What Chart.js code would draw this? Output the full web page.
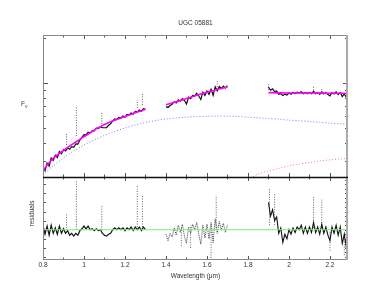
<!DOCTYPE html>
<html>
<head>
<meta charset="utf-8">
<script src="https://cdn.jsdelivr.net/npm/chart.js@4.4.0/dist/chart.umd.min.js"></script>
<style>
  html, body { margin: 0; padding: 0; background: #fff; }
  #wrap { position: relative; width: 374px; height: 285px; overflow: hidden; }
  #wrap canvas { position: absolute; left: 0; top: 0; }
  .lab { position: absolute; font-family: "Liberation Sans", Arial, sans-serif; font-size: 6.5px; color: #333; white-space: nowrap; }
  .lab sub { font-size: 5px; }
</style>
</head>
<body>
<div id="wrap">
  <canvas id="topChart" width="374" height="285"></canvas>
  <canvas id="resChart" width="374" height="285"></canvas>
  <div class="lab" style="left:21px; top:100px;">F<sub>ν</sub></div>
  <div class="lab" style="left:1px; top:210px; width:60px; text-align:center; transform:rotate(-90deg);">residuals</div>
</div>
<script>
// ---- data ----
const chartTitle = 'UGC 05881';
const xTitle = 'Wavelength (μm)';
const xMin = 0.8, xMax = 2.288;
const fluxMin = 0.236, fluxMax = 2.09;     // log axis, no labels
const resMin = -0.333, resMax = 0.58;

const xLabelVals = [0.8, 1, 1.2, 1.4, 1.6, 1.8, 2, 2.2];
const xTickLabels = ['0.8', '1', '1.2', '1.4', '1.6', '1.8', '2', '2.2'];
const xMinorTicks = [0.8, 0.9, 1, 1.1, 1.2, 1.3, 1.4, 1.5, 1.6, 1.7, 1.8, 1.9, 2, 2.1, 2.2];
const fluxTicks = [0.3, 0.4, 0.5, 0.6, 0.7, 0.8, 0.9, 1, 2];
const resTicksLeft = [-0.3, -0.2, -0.1, 0, 0.1, 0.2, 0.3, 0.4, 0.5];
const resTicksRight = [-0.3, -0.25, -0.2, -0.15, -0.1, -0.05, 0, 0.05, 0.1, 0.15, 0.2, 0.25, 0.3, 0.35, 0.4, 0.45, 0.5, 0.55];

// spectrum, segment 1
const wl1 = [0.80,0.81,0.82,0.83,0.84,0.85,0.86,0.87,0.88,0.89,
             0.90,0.91,0.92,0.93,0.94,0.95,0.96,0.97,0.98,0.99,
             1.00,1.01,1.02,1.03,1.04,1.05,1.06,1.07,1.08,1.09,
             1.10,1.11,1.12,1.13,1.14,1.15,1.16,1.17,1.18,1.19,
             1.20,1.21,1.22,1.23,1.24,1.25,1.26,1.27,1.28,1.29,1.30];
const flux1 = [0.269,0.260,0.293,0.279,0.316,0.305,0.330,0.318,0.349,0.337,
               0.359,0.352,0.368,0.361,0.376,0.372,0.392,0.391,0.417,0.434,
               0.452,0.451,0.469,0.465,0.480,0.479,0.499,0.497,0.511,0.504,
               0.503,0.504,0.522,0.534,0.558,0.575,0.571,0.590,0.584,0.603,
               0.592,0.617,0.612,0.631,0.620,0.646,0.641,0.660,0.647,0.674,0.668];
const res1 = [0.05,-0.05,0.04,-0.06,0.05,-0.04,0.02,-0.05,0.04,-0.04,
              0.01,-0.04,-0.01,-0.06,-0.04,-0.07,-0.04,-0.06,-0.01,0.01,
              0.04,0.01,0.04,0.00,0.01,-0.01,0.01,-0.01,0.00,-0.04,
              -0.06,-0.07,-0.05,-0.04,0.00,0.02,0.00,0.02,0.00,0.02,
              -0.01,0.02,0.00,0.03,-0.01,0.03,0.00,0.03,-0.01,0.03,0.00];

// spectrum, segment 2
const wl2 = [1.40,1.41,1.42,1.43,1.44,1.45,1.46,1.47,1.48,1.49,
             1.50,1.51,1.52,1.53,1.54,1.55,1.56,1.57,1.58,1.59,
             1.60,1.61,1.62,1.63,1.64,1.65,1.66,1.67,1.68,1.69,1.70];
const flux2 = [0.695,0.687,0.708,0.721,0.750,0.735,0.772,0.757,0.787,0.764,
               0.724,0.803,0.787,0.827,0.819,0.853,0.819,0.776,0.869,0.826,
               0.885,0.840,0.909,0.828,0.943,0.887,0.948,0.919,0.954,0.924,0.959];
const res2 = [-0.05,-0.12,-0.04,-0.08,0.02,-0.06,0.05,-0.03,0.06,-0.07,
              -0.15,0.03,-0.04,0.06,0.00,0.08,-0.05,-0.16,0.05,-0.09,
              0.06,-0.10,0.08,-0.14,0.12,-0.04,0.09,0.00,0.07,-0.03,0.05];

// spectrum, segment 3
const wl3 = [1.90,1.91,1.92,1.93,1.94,1.95,1.96,1.97,1.98,1.99,
             2.00,2.01,2.02,2.03,2.04,2.05,2.06,2.07,2.08,2.09,
             2.10,2.11,2.12,2.13,2.14,2.15,2.16,2.17,2.18,2.19,
             2.20,2.21,2.22,2.23,2.24,2.25,2.26,2.27,2.28,2.29];
const flux3 = [0.940,0.895,0.913,0.877,0.886,0.842,0.850,0.824,0.841,0.832,
               0.858,0.841,0.867,0.849,0.867,0.857,0.874,0.848,0.866,0.848,
               0.866,0.847,0.882,0.847,0.865,0.839,0.872,0.846,0.864,0.838,
               0.821,0.864,0.846,0.872,0.837,0.863,0.811,0.845,0.803,0.828];
const res3 = [0.30,0.15,0.22,0.10,0.14,-0.04,0.02,-0.14,-0.05,-0.10,
              0.00,-0.05,0.02,-0.03,0.03,0.00,0.05,-0.04,0.03,-0.04,
              0.03,-0.03,0.08,-0.03,0.03,-0.05,0.06,-0.04,0.03,-0.06,
              -0.12,0.03,-0.04,0.05,-0.06,0.03,-0.15,-0.05,-0.20,-0.10];

// outlier columns (dotted verticals)
const spikeWl   = [0.915, 0.963, 1.087, 1.26, 1.285, 1.65, 1.90, 2.12, 2.16];
const spikeLo   = [0.386, 0.443, 0.533, 0.681, 0.714, 0.905, 0.900, 0.860, 0.860];
const spikeHi   = [0.464, 0.703, 0.641, 0.771, 0.858, 1.030, 0.985, 0.948, 0.926];
const resSpikeWl = [0.915, 0.963, 1.087, 1.26, 1.285, 1.475, 1.52, 1.62, 1.645, 1.905, 1.93, 2.12, 2.16, 2.20, 2.27];
const resSpikeLo = [0.02, 0.00, 0.00, 0.03, 0.03, -0.18, -0.20, -0.31, 0.02, 0.05, 0.05, 0.02, 0.02, -0.23, -0.28];
const resSpikeHi = [0.17, 0.54, 0.26, 0.49, 0.38, 0.02, 0.05, -0.02, 0.38, 0.46, 0.40, 0.36, 0.33, -0.02, -0.03];

// total model (magenta)
const fitWl1 = [0.80,0.82,0.84,0.86,0.88,0.90,0.92,0.94,0.96,0.98,1.00,1.02,1.04,
                1.06,1.08,1.10,1.12,1.14,1.16,1.18,1.20,1.22,1.24,1.26,1.28,1.30];
const fitFlux1 = [0.259,0.284,0.304,0.324,0.339,0.355,0.372,0.388,0.404,0.421,0.439,0.455,0.475,
                  0.494,0.511,0.529,0.544,0.558,0.571,0.584,0.598,0.612,0.626,0.641,0.654,0.668];
const fitWl2 = [1.40,1.45,1.50,1.55,1.60,1.65,1.70];
const fitFlux2 = [0.716,0.750,0.787,0.828,0.868,0.905,0.940];
const fitWl3 = [1.90,2.00,2.10,2.20,2.29];
const fitFlux3 = [0.862,0.858,0.857,0.855,0.854];

// stellar component (blue dotted)
const blueWl = [0.80,0.85,0.90,0.95,1.00,1.05,1.10,1.15,1.20,1.25,1.30,1.35,1.40,1.45,1.50,1.55,
                1.60,1.65,1.70,1.75,1.80,1.85,1.90,1.95,2.00,2.05,2.10,2.15,2.20,2.25,2.29];
const blueFlux = [0.244,0.280,0.316,0.352,0.386,0.417,0.447,0.475,0.501,0.525,0.545,0.562,0.575,0.584,0.592,0.596,
                  0.600,0.602,0.601,0.598,0.591,0.586,0.580,0.574,0.565,0.560,0.554,0.547,0.540,0.535,0.530];

// hot dust component (red dotted)
const redWl = [1.75,1.80,1.85,1.90,1.95,2.00,2.05,2.10,2.15,2.20,2.25,2.29];
const redFlux = [0.205,0.226,0.247,0.259,0.269,0.280,0.288,0.295,0.302,0.307,0.311,0.315];

// ---- helpers ----
const FONT = '"Liberation Sans", Arial, sans-serif';
const xy = (xs, ys) => xs.map((x, i) => ({ x: x, y: ys[i] }));

function specLine(data, w, color, dash) {
    return { data: data, borderColor: color || '#111', borderWidth: w || 1.2, borderDash: dash || [],
             pointRadius: 0, order: 2, clip: 0 };
}
function spikeSets(ws, lo, hi) {
    return ws.map((w, i) => ({
        data: [{ x: w, y: lo[i] }, { x: w, y: hi[i] }],
        borderColor: 'rgba(70,70,70,0.85)', borderWidth: 1, borderDash: [1, 1.5],
        pointRadius: 0, order: 3, clip: 0
    }));
}

// frame + inward ticks, placed with the chart's own scales
const framePlugin = {
    id: 'frame',
    afterDatasetsDraw(chart, args, o) {
        const { ctx, chartArea: a } = chart;
        const xs = chart.scales.x, ys = chart.scales.y;
        ctx.save();
        ctx.strokeStyle = '#555';
        ctx.lineWidth = 1;
        ctx.beginPath();
        xMinorTicks.forEach(v => {
            const px = Math.round(xs.getPixelForValue(v)) + 0.5;
            const len = xLabelVals.includes(v) ? 4 : 2.5;
            ctx.moveTo(px, a.top); ctx.lineTo(px, a.top + len);
            ctx.moveTo(px, a.bottom); ctx.lineTo(px, a.bottom - len);
        });
        o.yLeft.forEach(v => {
            const py = Math.round(ys.getPixelForValue(v)) + 0.5;
            const len = o.yMajor.includes(v) ? 5 : 3;
            ctx.moveTo(a.left, py); ctx.lineTo(a.left + len, py);
        });
        o.yRight.forEach(v => {
            const py = Math.round(ys.getPixelForValue(v)) + 0.5;
            const len = o.yMajor.includes(v) ? 5 : 3;
            ctx.moveTo(a.right, py); ctx.lineTo(a.right - len, py);
        });
        ctx.stroke();

        // box
        ctx.strokeStyle = '#888';
        ctx.beginPath();
        ctx.moveTo(a.left + 0.5, a.top); ctx.lineTo(a.left + 0.5, a.bottom);
        if (o.topEdge) { ctx.moveTo(a.left, a.top + 0.5); ctx.lineTo(a.right, a.top + 0.5); }
        if (o.bottomEdge) { ctx.moveTo(a.left, a.bottom - 0.5); ctx.lineTo(a.right, a.bottom - 0.5); }
        ctx.stroke();
        ctx.strokeStyle = '#aaa';
        ctx.lineWidth = 2;
        ctx.beginPath();
        ctx.moveTo(a.right - 1, a.top); ctx.lineTo(a.right - 1, a.bottom);
        ctx.stroke();
        if (o.divider) {
            ctx.strokeStyle = '#111';
            ctx.lineWidth = 1.5;
            ctx.beginPath();
            ctx.moveTo(a.left, a.top + 0.5); ctx.lineTo(a.right, a.top + 0.5);
            ctx.stroke();
        }
        ctx.restore();
    }
};

// ---- upper panel: spectrum + model ----
new Chart(document.getElementById('topChart'), {
    type: 'line',
    data: {
        datasets: [
            { data: xy(fitWl1, fitFlux1), borderColor: '#ff00ff', borderWidth: 1.6, pointRadius: 0, tension: 0.3, order: 0, clip: 0 },
            { data: xy(fitWl2, fitFlux2), borderColor: '#ff00ff', borderWidth: 1.6, pointRadius: 0, tension: 0.3, order: 0, clip: 0 },
            { data: xy(fitWl3, fitFlux3), borderColor: '#ff00ff', borderWidth: 1.6, pointRadius: 0, tension: 0.3, order: 0, clip: 0 },
            specLine(xy(wl1, flux1)),
            specLine(xy(wl2, flux2)),
            specLine(xy(wl3, flux3)),
            ...spikeSets(spikeWl, spikeLo, spikeHi),
            { data: xy(blueWl, blueFlux), borderColor: 'rgba(110,110,255,0.9)', borderWidth: 1, borderDash: [1, 2],
              pointRadius: 0, tension: 0.3, order: 5, clip: 0 },
            { data: xy(redWl, redFlux), borderColor: 'rgba(255,110,110,0.9)', borderWidth: 1, borderDash: [1, 2],
              pointRadius: 0, tension: 0.3, order: 6, clip: 0 }
        ]
    },
    options: {
        responsive: false,
        animation: false,
        events: [],
        layout: { padding: { left: 43, right: 26, top: 0, bottom: 108 } },
        plugins: {
            legend: { display: false },
            tooltip: { enabled: false },
            title: {
                display: true, text: chartTitle, color: '#333',
                font: { family: FONT, size: 6.5, weight: 'normal', lineHeight: 1 },
                padding: { top: 20, bottom: 8.5 }
            },
            frame: { yLeft: fluxTicks, yRight: fluxTicks, yMajor: [1], topEdge: true, bottomEdge: false, divider: false }
        },
        scales: {
            x: { type: 'linear', min: xMin, max: xMax, display: false },
            y: { type: 'logarithmic', min: fluxMin, max: fluxMax, display: false }
        }
    },
    plugins: [framePlugin]
});

// ---- lower panel: residuals ----
new Chart(document.getElementById('resChart'), {
    type: 'line',
    data: {
        datasets: [
            { data: [{ x: xMin, y: 0 }, { x: xMax, y: 0 }], borderColor: '#7ee87e', borderWidth: 1, pointRadius: 0, order: 0, clip: 0 },
            specLine(xy(wl1, res1)),
            specLine(xy(wl2, res2), 1, 'rgba(40,40,40,0.9)', [1, 1]),
            specLine(xy(wl3, res3), 1.1),
            ...spikeSets(resSpikeWl, resSpikeLo, resSpikeHi)
        ]
    },
    options: {
        responsive: false,
        animation: false,
        events: [],
        layout: { padding: { left: 43, right: 26, top: 177, bottom: 6 } },
        plugins: {
            legend: { display: false },
            tooltip: { enabled: false },
            frame: { yLeft: resTicksLeft, yRight: resTicksRight, yMajor: [], topEdge: false, bottomEdge: true, divider: true }
        },
        scales: {
            x: {
                type: 'linear', min: xMin, max: xMax, position: 'bottom',
                grid: { display: false, drawTicks: false },
                border: { display: false },
                afterBuildTicks: (s) => { s.ticks = xLabelVals.map(v => ({ value: v })); },
                ticks: {
                    autoSkip: false, maxRotation: 0, padding: 2, color: '#333',
                    font: { family: FONT, size: 6.5, lineHeight: 1 },
                    callback: (v, i) => xTickLabels[i]
                },
                title: {
                    display: true, text: xTitle, color: '#333',
                    font: { family: FONT, size: 6.5, lineHeight: 1 },
                    padding: { top: 2, bottom: 0 }
                }
            },
            y: { type: 'linear', min: resMin, max: resMax, display: false }
        }
    },
    plugins: [framePlugin]
});
</script>
</body>
</html>
